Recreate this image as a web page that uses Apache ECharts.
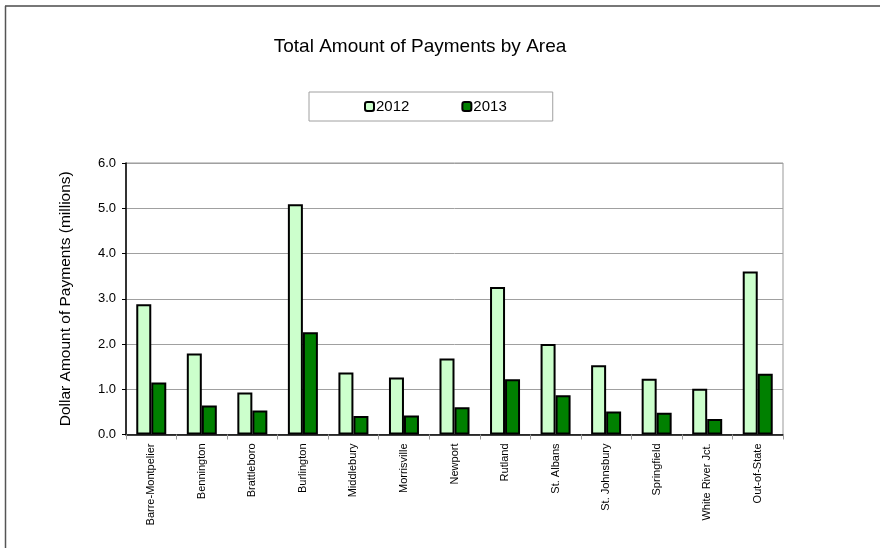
<!DOCTYPE html>
<html><head><meta charset="utf-8">
<script src="https://cdn.jsdelivr.net/npm/echarts@6/dist/echarts.min.js"></script>
<style>html,body{margin:0;padding:0;background:#fff}#c{width:880px;height:548px}</style>
</head><body><div id="c"></div>
<script>
const categories = ["Barre-Montpelier","Bennington","Brattleboro","Burlington","Middlebury","Morrisville","Newport","Rutland","St. Albans","St. Johnsbury","Springfield","White River Jct.","Out-of-State"];
const values2012 = [2.88,1.79,0.93,5.09,1.37,1.26,1.68,3.26,2.00,1.53,1.23,1.01,3.60];
const values2013 = [1.15,0.64,0.53,2.26,0.41,0.42,0.60,1.22,0.87,0.51,0.48,0.34,1.34];
const seriesNames = ["2012","2013"];
const yTicks = {min:0, max:6, interval:1};

const font = '"Liberation Sans",Arial,sans-serif';
const chart = echarts.init(document.getElementById('c'), null, {renderer:'canvas'});
chart.setOption({
  backgroundColor:'#fff',
  animation:false,
  title:{text:'Total Amount of Payments by Area', left:415, textAlign:'center', top:32,
    textStyle:{fontFamily:font, fontSize:19, fontWeight:'normal', color:'#000'}},
  legend:{data:seriesNames, left:309, top:92, itemWidth:9, itemHeight:9, itemGap:52,
    padding:[7,46,7,55], borderColor:'#a0a0a0', borderWidth:1,
    textStyle:{fontFamily:font, fontSize:15, color:'#000', padding:[0,0,0,-3]}},
  grid:{left:126, right:97, top:163, bottom:113.5, show:true, borderColor:'#999', borderWidth:1},
  xAxis:{type:'category', data:categories,
    axisLine:{lineStyle:{color:'#000', width:1.5}},
    axisTick:{show:true, length:5, lineStyle:{color:'#999'}},
    axisLabel:{rotate:90, margin:9, interval:0, fontFamily:font, fontSize:11, color:'#000'}},
  yAxis:{type:'value', min:yTicks.min, max:yTicks.max, interval:yTicks.interval,
    name:'Dollar Amount of Payments (millions)', nameLocation:'middle', nameGap:52,
    nameTextStyle:{fontFamily:font, fontSize:15.5, color:'#000'},
    axisLine:{show:true, lineStyle:{color:'#000', width:1.5}},
    axisTick:{show:true, length:4, lineStyle:{color:'#000'}},
    axisLabel:{margin:10, fontFamily:font, fontSize:13, color:'#000', formatter:v=>v.toFixed(1)},
    splitLine:{lineStyle:{color:'#a0a0a0', width:1}}},
  series:[
    {name:seriesNames[0], type:'bar', data:values2012, barWidth:15, barGap:'0%',
     itemStyle:{color:'#ccffcc', borderColor:'#000', borderWidth:2}},
    {name:seriesNames[1], type:'bar', data:values2013, barWidth:15, barGap:'0%',
     itemStyle:{color:'#008000', borderColor:'#000', borderWidth:2}}
  ],
  graphic:[
    {type:'line', shape:{x1:5, y1:6, x2:880, y2:6}, style:{stroke:'#777', lineWidth:2}},
    {type:'line', shape:{x1:5.5, y1:6, x2:5.5, y2:548}, style:{stroke:'#555', lineWidth:1.5}}
  ]
});
</script></body></html>
